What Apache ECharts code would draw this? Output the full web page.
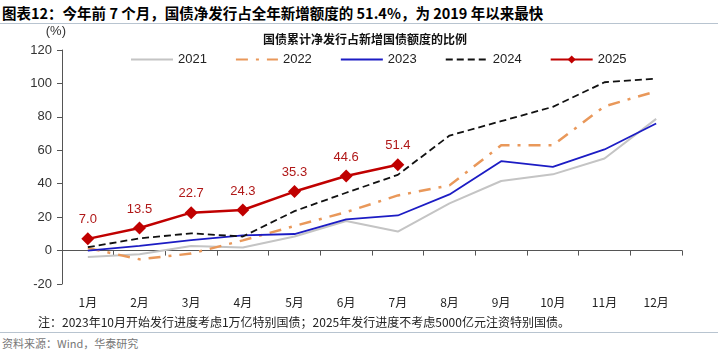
<!DOCTYPE html>
<html>
<head>
<meta charset="utf-8">
<script src="https://cdn.jsdelivr.net/npm/echarts@6/dist/echarts.min.js"></script>
<style>
  body { margin: 0; background: #fff; }
  #wrap { position: relative; width: 718px; height: 353px; font-family: "Noto Sans CJK SC", sans-serif; }
  #head { position: absolute; left: 2px; top: 2px; font-size: 14.5px; font-weight: bold; color: #000; }
  #hline { position: absolute; left: 0; top: 23px; width: 718px; height: 1px; background: #b8c4d0; }
  #chart { position: absolute; left: 0; top: 24px; width: 718px; height: 300px; }
  #note { position: absolute; left: 38px; top: 313px; font-size: 12px; color: #222; }
  #fline { position: absolute; left: 0; top: 332px; width: 718px; height: 1px; background: #b8c4d0; }
  #src { position: absolute; left: 2px; top: 335px; font-size: 11px; color: #777; }
</style>
</head>
<body>
<div id="wrap">
  <div id="head">图表12：今年前 7 个月，国债净发行占全年新增额度的 51.4%，为 2019 年以来最快</div>
  <div id="hline"></div>
  <div id="chart"></div>
  <div id="note">注：2023年10月开始发行进度考虑1万亿特别国债；2025年发行进度不考虑5000亿元注资特别国债。</div>
  <div id="fline"></div>
  <div id="src">资料来源：Wind，华泰研究</div>
</div>
<script>
// 月份
let months = ["1月", "2月", "3月", "4月", "5月", "6月", "7月", "8月", "9月", "10月", "11月", "12月"];
// 各年累计净发行占比(%)
let y2021 = [-3.8, -2.2, 2.8, 1.8, 8.4, 17.7, 11.4, 28.2, 41.6, 45.6, 55.1, 78.8];
let y2022 = [1.5, -5.2, -1.8, 6.1, 14.7, 23.0, 33.0, 39.0, 63.0, 63.0, 86.3, 95.3];
let y2023 = [0.0, 2.8, 6.3, 9.1, 9.9, 18.7, 21.0, 33.6, 53.5, 50.1, 60.5, 76.0];
let y2024 = [2.0, 7.3, 10.3, 8.4, 23.6, 34.6, 45.3, 68.8, 77.4, 86.0, 100.7, 102.9];
let y2025 = [7.0, 13.5, 22.7, 24.3, 35.3, 44.6, 51.4];

// 图例里无标记的线
let plain = { itemStyle: { opacity: 0, borderWidth: 0 } };

let myChart = echarts.init(document.getElementById("chart"));
let option = {
  animation: false,
  textStyle: { fontFamily: "Liberation Sans, Arial, sans-serif" },
  title: {
    text: "国债累计净发行占新增国债额度的比例",
    left: 360,
    textAlign: "center",
    top: 4,
    textStyle: { fontSize: 12, fontWeight: "bold", color: "#111", fontFamily: "Noto Sans CJK SC" },
  },
  legend: {
    top: 24,
    left: 125,
    itemWidth: 42,
    itemHeight: 10,
    itemGap: 28,
    textStyle: { fontSize: 13, color: "#222" },
    data: [
      Object.assign({ name: "2021" }, plain),
      Object.assign({ name: "2022" }, plain),
      Object.assign({ name: "2023" }, plain),
      Object.assign({ name: "2024" }, plain),
      { name: "2025" },
    ],
  },
  grid: { left: 62, right: 36, top: 26, bottom: 40 },
  xAxis: [
    {
      type: "category",
      data: months,
      axisLine: { onZero: true, lineStyle: { color: "#555" } },
      axisTick: { show: true, length: 5, lineStyle: { color: "#555" } },
      axisLabel: { show: false },
    },
    {
      type: "category",
      data: months,
      position: "bottom",
      axisLine: { show: false },
      axisTick: { show: false },
      axisLabel: { fontSize: 12, color: "#222", margin: 12, fontFamily: "Noto Sans CJK SC" },
    },
  ],
  yAxis: {
    type: "value",
    min: -20,
    max: 120,
    interval: 20,
    name: "(%)",
    nameLocation: "end",
    nameGap: 12,
    nameTextStyle: { fontSize: 13, color: "#333", align: "right", padding: [0, -4, 0, 0] },
    axisLine: { show: true, lineStyle: { color: "#555" } },
    axisTick: { show: true, length: 5, lineStyle: { color: "#555" } },
    axisLabel: { fontSize: 13, color: "#333", margin: 10 },
    splitLine: { show: false },
  },
  series: [
    {
      name: "2021",
      type: "line",
      data: y2021,
      symbol: "none",
      lineStyle: { color: "#c4c4c4", width: 2 },
      itemStyle: { color: "#c4c4c4" },
    },
    {
      name: "2022",
      type: "line",
      data: y2022,
      symbol: "none",
      lineStyle: { color: "#e9985a", width: 2.5, type: [12, 8, 3, 8] },
      itemStyle: { color: "#e9985a" },
    },
    {
      name: "2023",
      type: "line",
      data: y2023,
      symbol: "none",
      lineStyle: { color: "#1c1cc4", width: 1.8 },
      itemStyle: { color: "#1c1cc4" },
    },
    {
      name: "2024",
      type: "line",
      data: y2024,
      symbol: "none",
      lineStyle: { color: "#111", width: 1.8, type: [7, 4] },
      itemStyle: { color: "#111" },
    },
    {
      name: "2025",
      type: "line",
      data: y2025,
      symbol: "diamond",
      symbolSize: 13,
      lineStyle: { color: "#c00000", width: 2.5 },
      itemStyle: { color: "#c00000" },
      label: {
        show: true,
        position: "top",
        distance: 6,
        fontSize: 13,
        color: "#b01818",
        formatter: (p) => p.value.toFixed(1),
      },
      z: 5,
    },
  ],
};
myChart.setOption(option);
</script>
</body>
</html>
